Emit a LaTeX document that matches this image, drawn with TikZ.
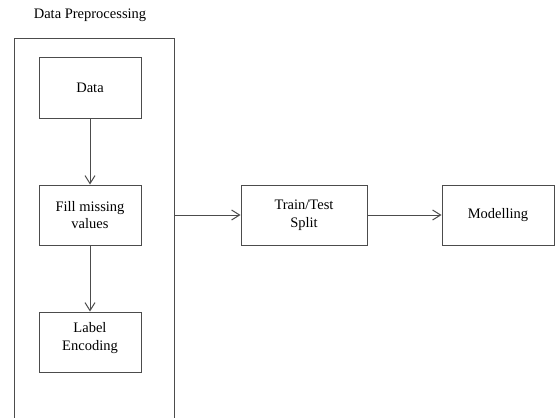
\documentclass[tikz,border=0pt]{standalone}
\usepackage{fontspec}
\setmainfont{Liberation Serif}
\usetikzlibrary{arrows, arrows.meta}

\begin{document}
\begin{tikzpicture}[x=1pt,y=-1pt,
  box/.style={draw=black!70, line width=1pt, minimum width=102pt, minimum height=60pt, align=center, font=\fontsize{14.5}{17.5}\selectfont},
  wbox/.style={box, minimum width=126pt},
  frame/.style={draw=black!70, line width=1pt, minimum width=160pt, minimum height=400pt},
  arr/.style={draw=black!70, line width=1pt, -{Straight Barb[length=8pt,width=10pt]}}]
\useasboundingbox (0,0) rectangle (556,417);
\clip (0,0) rectangle (556,417);
\node[font=\fontsize{14.5}{17.5}\selectfont] (title) at (90,15) {Data Preprocessing};
\node[frame] (pre) at (94,239) {}; %outer box, open at bottom
\node[box] (data) at (90,88) {Data};
\node[box] (fill) at (90,215) {Fill missing\\values};
\node[box] (enc) at (90,342) {};
\node[font=\fontsize{14.5}{17.5}\selectfont, align=center] (enctxt) at (90,338) {Label\\Encoding};
\node[wbox] (split) at (304,215) {Train/Test\\Split};
\node[box, minimum width=112pt] (model) at (498,215) {Modelling};
\draw[arr] (data) -- (fill);
\draw[arr] (fill) -- (enc);
\draw[arr] (fill -| pre.east) -- (split);
\draw[arr] (split) -- (model);
\end{tikzpicture}
\end{document}
